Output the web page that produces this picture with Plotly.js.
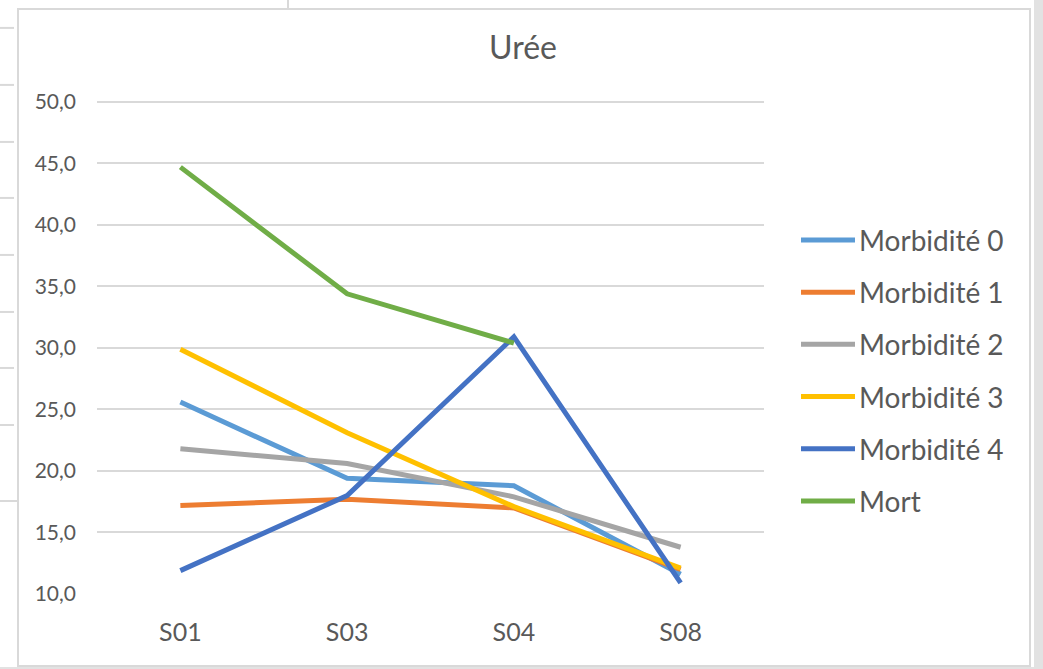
<!DOCTYPE html>
<html>
<head>
<meta charset="utf-8">
<script src="https://cdn.plot.ly/plotly-3.0.1.min.js"></script>
<style>
  html, body { margin: 0; padding: 0; background: #ffffff; }
  #chart { width: 1043px; height: 669px; }
</style>
</head>
<body>
<div id="chart"></div>
<script>
// Semaines de prélèvement
const categories = ['S01', 'S03', 'S04', 'S08'];

// Urée moyenne par groupe
const morbidite0 = [25.6, 19.4, 18.8, 11.6];
const morbidite1 = [17.2, 17.7, 17.0, 12.0];
const morbidite2 = [21.8, 20.6, 17.9, 13.8];
const morbidite3 = [29.9, 23.1, 17.1, 12.1];
const morbidite4 = [11.9, 18.0, 30.9, 10.9];
const mort       = [44.7, 34.4, 30.4, null];

const seriesNames  = ['Morbidité 0', 'Morbidité 1', 'Morbidité 2', 'Morbidité 3', 'Morbidité 4', 'Mort'];
const seriesValues = [morbidite0, morbidite1, morbidite2, morbidite3, morbidite4, mort];
const seriesColors = ['#5B9BD5', '#ED7D31', '#A5A5A5', '#FFC000', '#4472C4', '#70AD47'];

const yTicks = [10, 15, 20, 25, 30, 35, 40, 45, 50];

// Plot area in page pixels; a little headroom above 50 keeps its gridline visible
const W = 1043, H = 669;
const yMin = 10, yMax = 50.4;
const pxPerUnit = 492 / 40;
const L = 97, R = 764, B = 594;
const T = B - (yMax - yMin) * pxPerUnit;
const fx = p => (p - L) / (R - L);
const fy = p => (B - p) / (B - T);

const textColor = '#595959';
const font = 'Lato, "Open Sans", "DejaVu Sans", sans-serif';
const lineWidth = 5;

const traces = seriesValues.map((vals, i) => ({
  type: 'scatter',
  mode: 'lines',
  x: categories,
  y: vals,
  name: seriesNames[i],
  line: { color: seriesColors[i], width: lineWidth },
  connectgaps: false,
  hoverinfo: 'x+y+name'
}));

const shapes = [];
const annotations = [];

// Chart frame
shapes.push({
  type: 'rect', xref: 'paper', yref: 'paper', layer: 'below',
  x0: fx(18), x1: fx(1030), y0: fy(9), y1: fy(666),
  line: { color: '#d9d9d9', width: 2 }, fillcolor: 'rgba(0,0,0,0)'
});

// Surrounding sheet: grey strip on the right and bottom
shapes.push({
  type: 'rect', xref: 'paper', yref: 'paper', layer: 'below',
  x0: fx(1034), x1: fx(1043), y0: fy(0), y1: fy(669),
  line: { width: 0 }, fillcolor: '#e2e2e2'
});
shapes.push({
  type: 'rect', xref: 'paper', yref: 'paper', layer: 'below',
  x0: fx(0), x1: fx(1043), y0: fy(667), y1: fy(669),
  line: { width: 0 }, fillcolor: '#e2e2e2'
});

// Sheet row lines peeking out on the left
[28, 85, 142, 198, 255, 312, 368, 425].forEach(yy => {
  shapes.push({
    type: 'line', xref: 'paper', yref: 'paper', layer: 'below',
    x0: fx(0), x1: fx(14), y0: fy(yy), y1: fy(yy),
    line: { color: '#d9d9d9', width: 2 }
  });
});
shapes.push({
  type: 'line', xref: 'paper', yref: 'paper', layer: 'below',
  x0: fx(0), x1: fx(17), y0: fy(501), y1: fy(501),
  line: { color: '#d9d9d9', width: 2 }
});
// Sheet column line above the frame
shapes.push({
  type: 'line', xref: 'paper', yref: 'paper', layer: 'below',
  x0: fx(288), x1: fx(288), y0: fy(0), y1: fy(8),
  line: { color: '#d9d9d9', width: 2 }
});

// Legend drawn at the right of the plot
seriesNames.forEach((name, i) => {
  const yy = 240 + i * 52.2;
  shapes.push({
    type: 'line', xref: 'paper', yref: 'paper',
    x0: fx(801), x1: fx(855), y0: fy(yy), y1: fy(yy),
    line: { color: seriesColors[i], width: lineWidth }
  });
  annotations.push({
    xref: 'paper', yref: 'paper', x: fx(857), y: fy(yy),
    xanchor: 'left', yanchor: 'middle', showarrow: false,
    text: name, font: { family: font, size: 28, color: textColor }
  });
});

const layout = {
  width: W, height: H,
  margin: { l: L, r: W - R, t: T, b: H - B, pad: 0 },
  paper_bgcolor: '#ffffff',
  plot_bgcolor: '#ffffff',
  separators: ', ',
  showlegend: false,
  title: {
    text: 'Urée',
    x: 523 / W, xref: 'container', xanchor: 'center',
    y: 1 - 48 / H, yref: 'container', yanchor: 'middle',
    font: { family: font, size: 32, color: textColor }
  },
  xaxis: {
    type: 'category',
    categoryarray: categories,
    range: [-0.5, 3.5],
    showgrid: false, zeroline: false, showline: false,
    ticks: '', ticklabelstandoff: 21,
    tickfont: { family: font, size: 25, color: textColor },
    fixedrange: true
  },
  yaxis: {
    range: [yMin, yMax],
    tickvals: yTicks,
    tickformat: '.1f',
    showgrid: true, gridcolor: '#d9d9d9', gridwidth: 1.6,
    zeroline: false, showline: false,
    ticks: '', ticklabelstandoff: 20,
    tickfont: { family: font, size: 21, color: textColor },
    fixedrange: true
  },
  shapes: shapes,
  annotations: annotations
};

Plotly.newPlot('chart', traces, layout, { displayModeBar: false });
</script>
</body>
</html>
